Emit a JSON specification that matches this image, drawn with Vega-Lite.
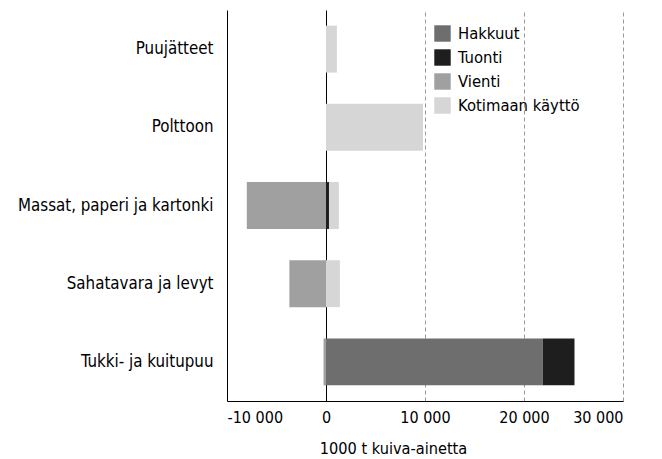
{
  "$schema": "https://vega.github.io/schema/vega-lite/v6.json",
  "width": 396,
  "height": 391,
  "autosize": {"type": "none"},
  "padding": {"left": 227, "top": 10, "right": 39, "bottom": 58},
  "background": "white",
  "config": {
    "font": "DejaVu Sans Condensed, Liberation Sans, sans-serif",
    "view": {"stroke": null},
    "axis": {"labelColor": "black", "titleColor": "black", "labelFont": "DejaVu Sans Condensed, Liberation Sans, sans-serif", "titleFont": "DejaVu Sans Condensed, Liberation Sans, sans-serif"},
    "legend": {"labelFont": "DejaVu Sans Condensed, Liberation Sans, sans-serif"}
  },
  "data": {
    "values": [
      {"cat": "Puujätteet", "type": "Kotimaan käyttö", "value": 1100, "ord": 4},
      {"cat": "Polttoon", "type": "Kotimaan käyttö", "value": 9800, "ord": 4},
      {"cat": "Massat, paperi ja kartonki", "type": "Vienti", "value": -8000, "ord": 3},
      {"cat": "Massat, paperi ja kartonki", "type": "Tuonti", "value": 300, "ord": 2},
      {"cat": "Massat, paperi ja kartonki", "type": "Kotimaan käyttö", "value": 1000, "ord": 4},
      {"cat": "Sahatavara ja levyt", "type": "Vienti", "value": -3700, "ord": 3},
      {"cat": "Sahatavara ja levyt", "type": "Kotimaan käyttö", "value": 1400, "ord": 4},
      {"cat": "Tukki- ja kuitupuu", "type": "Vienti", "value": -250, "ord": 3},
      {"cat": "Tukki- ja kuitupuu", "type": "Hakkuut", "value": 21900, "ord": 1},
      {"cat": "Tukki- ja kuitupuu", "type": "Tuonti", "value": 3200, "ord": 2}
    ]
  },
  "mark": {"type": "bar"},
  "encoding": {
    "y": {
      "field": "cat",
      "type": "nominal",
      "sort": ["Puujätteet", "Polttoon", "Massat, paperi ja kartonki", "Sahatavara ja levyt", "Tukki- ja kuitupuu"],
      "scale": {"paddingInner": 0.4, "paddingOuter": 0.2},
      "axis": {
        "title": null,
        "ticks": false,
        "domain": true,
        "domainColor": "black",
        "domainWidth": 1,
        "labelFontSize": 16.8,
        "labelPadding": 14,
        "labelLimit": 300,
        "grid": false
      }
    },
    "x": {
      "field": "value",
      "type": "quantitative",
      "stack": "zero",
      "scale": {"domain": [-10000, 30000], "nice": false},
      "axis": {
        "values": [-10000, 0, 10000, 20000, 30000],
        "title": "1000 t kuiva-ainetta",
        "titleFontSize": 16.2,
        "titleFontWeight": "normal",
        "titlePadding": 15,
        "titleX": 166,
        "labelFontSize": 16,
        "labelPadding": 8,
        "ticks": false,
        "domainColor": "black",
        "domainWidth": 1,
        "grid": true,
        "gridColor": {"condition": {"test": "datum.value === 0", "value": "black"}, "value": "#999999"},
        "gridDash": {"condition": {"test": "datum.value === 0", "value": []}, "value": [4, 3]},
        "gridWidth": 1,
        "labelExpr": "replace(replace(format(datum.value, ','), ',', ' '), '\u2212', '-')"
      }
    },
    "color": {
      "field": "type",
      "type": "nominal",
      "scale": {
        "domain": ["Hakkuut", "Tuonti", "Vienti", "Kotimaan käyttö"],
        "range": ["#6e6e6e", "#1e1e1e", "#a0a0a0", "#d6d6d6"]
      },
      "legend": {
        "title": null,
        "orient": "none",
        "legendX": 207,
        "legendY": 15,
        "symbolType": "square",
        "symbolSize": 270,
        "symbolStrokeWidth": 0,
        "labelFontSize": 16.5,
        "labelColor": "black",
        "rowPadding": 7,
        "labelOffset": 7
      }
    },
    "order": {"field": "ord", "type": "quantitative"}
  }
}
